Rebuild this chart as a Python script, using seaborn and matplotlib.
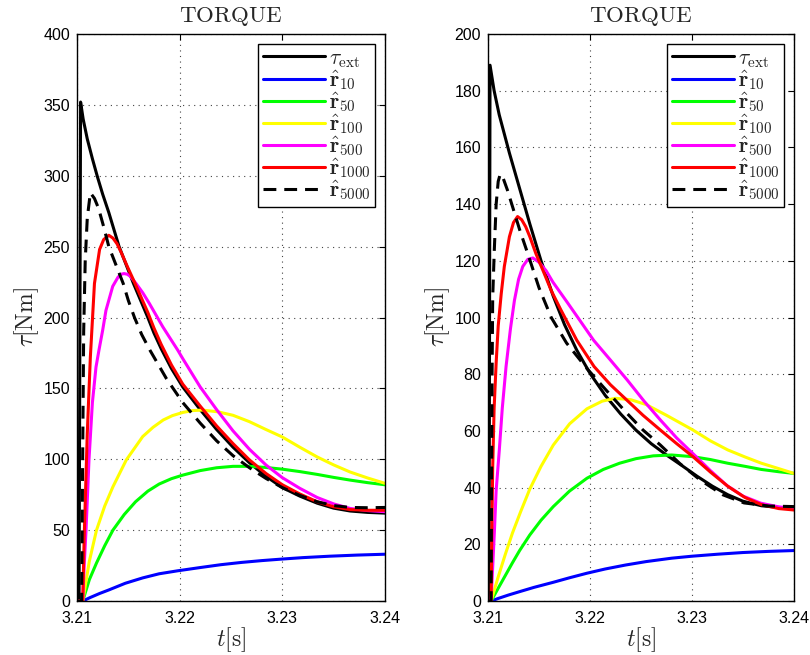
import numpy as np
import pandas as pd
import matplotlib
matplotlib.use("Agg")
import matplotlib.pyplot as plt
import seaborn as sns

# ---------------- data (t in s, torque in Nm) ----------------
# Left panel
L_tau_t = [3.2100, 3.2102, 3.21035, 3.2106, 3.2110, 3.2115, 3.2120, 3.2125, 3.2131, 3.2136, 3.2141, 3.2148, 3.2155, 3.2162, 3.2169, 3.2175, 3.2182, 3.2192, 3.2203, 3.2220, 3.2236, 3.2252, 3.2268, 3.2284, 3.2300, 3.2317, 3.2334, 3.2350, 3.2366, 3.2383, 3.2400]
L_tau_v = [0, 0, 352, 340, 326, 312, 299, 287, 274, 262, 250, 237, 224, 212, 200, 189, 178, 164, 151, 135, 121, 108.5, 97.5, 88, 80, 74, 69, 65.5, 63.5, 62.5, 62]

L_r10_t = [3.2100, 3.21056, 3.2113, 3.2122, 3.2131, 3.2147, 3.2164, 3.2180, 3.2198, 3.2220, 3.2240, 3.2260, 3.2280, 3.2300, 3.2320, 3.2346, 3.2373, 3.2400]
L_r10_v = [0, 0, 2.5, 5.3, 7.8, 12.5, 16.3, 19.2, 21.3, 23.6, 25.6, 27.2, 28.5, 29.6, 30.6, 31.6, 32.4, 33]

L_r50_t = [3.2100, 3.21056, 3.2112, 3.2119, 3.2127, 3.2135, 3.2146, 3.2157, 3.2169, 3.2180, 3.2192, 3.2203, 3.2220, 3.2236, 3.2252, 3.2268, 3.2284, 3.2300, 3.2317, 3.2334, 3.2350, 3.2366, 3.2383, 3.2400]
L_r50_v = [0, 0, 15, 26.8, 39, 50, 61, 70, 77.5, 82.5, 86.3, 88.8, 92, 94, 95, 95, 94.2, 93, 91.3, 89.3, 87.2, 85.3, 83.5, 82]

L_r100_t = [3.2100, 3.21056, 3.2112, 3.2119, 3.2127, 3.2135, 3.2148, 3.2164, 3.2174, 3.2184, 3.2193, 3.2203, 3.2212, 3.2222, 3.2237, 3.2252, 3.2268, 3.2284, 3.2300, 3.2317, 3.2334, 3.2350, 3.2366, 3.2383, 3.2400]
L_r100_v = [0, 0, 28, 50, 67, 80.6, 99.5, 116, 122.5, 127.7, 130.8, 133, 134.3, 134.7, 133.5, 131, 126.5, 121, 115.7, 108.5, 101.6, 96, 91, 86.8, 83]

L_r500_t = [3.2100, 3.21056, 3.2107, 3.21088, 3.21117, 3.2115, 3.21185, 3.21214, 3.2125, 3.21282, 3.21348, 3.2140, 3.2143, 3.21458, 3.2149, 3.2152, 3.21575, 3.2164, 3.21704, 3.21835, 3.2191, 3.21981, 3.2203, 3.2220, 3.2236, 3.2252, 3.2268, 3.2284, 3.2300, 3.2317, 3.2334, 3.2350, 3.2366, 3.2383, 3.2400]
L_r500_v = [0, 0, 25, 50, 100, 140, 165, 177, 191, 205, 222, 228.5, 230.5, 231, 230.5, 229, 224, 217.5, 210, 193.5, 185, 177, 171, 151, 135, 120, 107, 96, 87, 79.5, 73, 68.5, 65.3, 63.8, 63]

L_r1000_t = [3.2100, 3.21056, 3.2107, 3.2110, 3.2113, 3.2114, 3.2117, 3.2122, 3.2126, 3.2131, 3.2135, 3.2139, 3.2143, 3.2149, 3.2155, 3.2162, 3.2169, 3.2175, 3.2182, 3.2192, 3.2203, 3.2220, 3.2236, 3.2252, 3.2268, 3.2284, 3.2300, 3.2317, 3.2334, 3.2350, 3.2366, 3.2383, 3.2400]
L_r1000_v = [0, 0, 45, 118, 172, 185, 224, 248, 255, 258, 256, 252, 246, 236, 226.5, 215, 203.5, 192.5, 181, 166.5, 153, 137.5, 123.5, 111, 99.5, 90, 82, 75.5, 70, 66.5, 64.5, 64, 64]

L_r5000_t = [3.2100, 3.21045, 3.21055, 3.21065, 3.2108, 3.2110, 3.2113, 3.2117, 3.2121, 3.2126, 3.2131, 3.2138, 3.2145, 3.2150, 3.2156, 3.2163, 3.2171, 3.2187, 3.2203, 3.2220, 3.2236, 3.2252, 3.2268, 3.2284, 3.2300, 3.2317, 3.2334, 3.2350, 3.2366, 3.2383, 3.2400]
L_r5000_v = [0, 0, 100, 190, 240, 270, 288, 284, 277, 264, 250, 237, 224, 212, 200, 188, 177, 157, 140, 125.5, 113, 102.5, 94, 86.5, 80, 74.5, 70, 67.3, 66, 65.8, 66]

# Right panel
R_tau_t = [3.2100, 3.2101, 3.2102, 3.2106, 3.2111, 3.2121, 3.2131, 3.2141, 3.2152, 3.2164, 3.2175, 3.2187, 3.2200, 3.2215, 3.2230, 3.2245, 3.2260, 3.2275, 3.2290, 3.2305, 3.2320, 3.2335, 3.2350, 3.2368, 3.2385, 3.2400]
R_tau_v = [0, 0, 189, 180, 171.5, 158, 145.5, 133, 120, 107.5, 97.5, 88.5, 80.3, 72.5, 66, 60.3, 55.5, 51.5, 47.8, 44, 40.5, 37.5, 35.2, 33.6, 33, 32.8]

R_r10_t = [3.2100, 3.2103, 3.2110, 3.2120, 3.2131, 3.2145, 3.2164, 3.2180, 3.2197, 3.2215, 3.2235, 3.2255, 3.2280, 3.2300, 3.2325, 3.2350, 3.2375, 3.2400]
R_r10_v = [0, 0, 0.9, 2.1, 3.3, 4.8, 6.6, 8.2, 9.8, 11.3, 12.7, 13.9, 15.1, 15.8, 16.5, 17.1, 17.5, 17.8]

R_r50_t = [3.2100, 3.2103, 3.2110, 3.2117, 3.2124, 3.2131, 3.2141, 3.2152, 3.2164, 3.2180, 3.2197, 3.2213, 3.2229, 3.2245, 3.2262, 3.2280, 3.2301, 3.2318, 3.2335, 3.2352, 3.2368, 3.2385, 3.2400]
R_r50_v = [0, 0, 4.5, 9, 13.5, 17.8, 23.3, 28.5, 33.3, 38.8, 43.3, 46.4, 48.6, 50.2, 51.2, 51.5, 50.9, 49.9, 48.6, 47.5, 46.4, 45.6, 45]

R_r100_t = [3.2100, 3.2103, 3.2110, 3.2117, 3.2124, 3.2132, 3.2141, 3.2152, 3.2164, 3.2180, 3.2197, 3.2212, 3.2225, 3.2240, 3.2255, 3.2275, 3.2301, 3.2318, 3.2335, 3.2352, 3.2368, 3.2385, 3.2400]
R_r100_v = [0, 0, 8.5, 16.5, 24, 31.5, 39.5, 47.5, 55, 62.5, 67.8, 70.5, 71.5, 71, 69.3, 65.5, 60.3, 56.5, 53.3, 50.8, 48.6, 46.7, 45]

R_r500_t = [3.2100, 3.2103, 3.21062, 3.2108, 3.21111, 3.2114, 3.21177, 3.2122, 3.21259, 3.2130, 3.21341, 3.2139, 3.2144, 3.2150, 3.2157, 3.21636, 3.21774, 3.2190, 3.22035, 3.2220, 3.22364, 3.2253, 3.22691, 3.2285, 3.23009, 3.2318, 3.23347, 3.2350, 3.23675, 3.2385, 3.2400]
R_r500_v = [0, 0, 24, 39, 53.3, 68, 82.7, 96, 106, 113.5, 118, 120.5, 121, 119.5, 116.5, 112.5, 105.5, 99, 92, 85, 78, 70.5, 63.8, 57.5, 52, 46, 40.6, 37, 34.5, 33.2, 32.7]

R_r1000_t = [3.2100, 3.2103, 3.21038, 3.21046, 3.2106, 3.2108, 3.2110, 3.2113, 3.2116, 3.2121, 3.2125, 3.2129, 3.2133, 3.2137, 3.2141, 3.2147, 3.2154, 3.2162, 3.2171, 3.2187, 3.2204, 3.2220, 3.2236, 3.2252, 3.2269, 3.2285, 3.2301, 3.2318, 3.2335, 3.2352, 3.2368, 3.2385, 3.2400]
R_r1000_v = [0, 0, 25, 47, 68, 84, 97, 108.5, 118, 128.5, 133.5, 135.6, 134.5, 132, 128.5, 122.5, 116.5, 109.5, 103, 92, 82.7, 76.3, 70.9, 65.5, 60.3, 55.5, 50.9, 45.5, 40.5, 36.5, 34, 32.6, 32.1]

R_r5000_t = [3.2100, 3.2103, 3.21035, 3.2104, 3.21046, 3.21062, 3.2108, 3.2110, 3.2112, 3.2115, 3.2119, 3.2125, 3.2131, 3.2139, 3.2150, 3.2162, 3.2177, 3.2197, 3.2213, 3.2236, 3.2252, 3.2269, 3.2288, 3.2308, 3.2330, 3.2351, 3.2375, 3.2400]
R_r5000_v = [0, 0, 40, 80, 107, 124, 140, 148, 150.6, 149, 145, 138, 131, 122.5, 110.5, 100, 91, 82, 75.5, 66.3, 60.3, 55, 48.5, 42.7, 37.5, 34.6, 33.5, 33.3]

labels = [r"$\tau_{\mathrm{ext}}$", r"$\hat{\mathbf{r}}_{10}$", r"$\hat{\mathbf{r}}_{50}$",
          r"$\hat{\mathbf{r}}_{100}$", r"$\hat{\mathbf{r}}_{500}$", r"$\hat{\mathbf{r}}_{1000}$",
          r"$\hat{\mathbf{r}}_{5000}$"]
colors = ["#000000", "#0000ff", "#00ff00", "#ffff00", "#ff00ff", "#ff0000", "#000000"]
dashed = [False, False, False, False, False, False, True]

left_series = [(L_tau_t, L_tau_v), (L_r10_t, L_r10_v), (L_r50_t, L_r50_v), (L_r100_t, L_r100_v),
               (L_r500_t, L_r500_v), (L_r1000_t, L_r1000_v), (L_r5000_t, L_r5000_v)]
right_series = [(R_tau_t, R_tau_v), (R_r10_t, R_r10_v), (R_r50_t, R_r50_v), (R_r100_t, R_r100_v),
                (R_r500_t, R_r500_v), (R_r1000_t, R_r1000_v), (R_r5000_t, R_r5000_v)]

x_ticks = [3.21, 3.22, 3.23, 3.24]
L_yticks = list(range(0, 401, 50))
R_yticks = list(range(0, 201, 20))

# ---------------- style ----------------
sns.set_style("white")
plt.rcParams["font.family"] = ["Liberation Sans", "DejaVu Sans"]
plt.rcParams["mathtext.fontset"] = "cm"

fig = plt.figure(figsize=(8.1, 6.55), dpi=100)
W, H = 810, 655
axL = fig.add_axes([77 / W, (H - 601) / H, 308 / W, 567 / H])
axR = fig.add_axes([488 / W, (H - 601) / H, 306 / W, 567 / H])


def draw(ax, series, yticks, ymax):
    for (t, v), lab, col, dsh in zip(series, labels, colors, dashed):
        df = pd.DataFrame({"t": t, "v": v})
        sns.lineplot(data=df, x="t", y="v", ax=ax, color=col, lw=2.2, label=lab,
                     estimator=None, sort=False,
                     linestyle=(0, (4.2, 2.6)) if dsh else "-")
    ax.set_xlim(3.21, 3.24)
    ax.set_ylim(0, ymax)
    ax.set_xticks(x_ticks)
    ax.set_xticklabels([f"{x:.2f}" for x in x_ticks])
    ax.set_yticks(yticks)
    ax.tick_params(direction="in", top=True, right=True, length=4, width=0.8,
                   labelsize=11.5, colors="black")
    ax.tick_params(axis="x", pad=7)
    ax.tick_params(axis="y", pad=5)
    ax.grid(True, linestyle=(0, (1, 4)), color="#444444", lw=0.8)
    for s in ax.spines.values():
        s.set_color("black")
        s.set_linewidth(1.0)
    ax.set_title(r"$\mathrm{TORQUE}$", fontsize=16.5, pad=9)
    ax.set_xlabel(r"$t[\mathrm{s}]$", fontsize=17, labelpad=0)
    ax.set_ylabel(r"$\tau[\mathrm{Nm}]$", fontsize=17, labelpad=2)
    leg = ax.legend(loc="upper right", fontsize=15.5, frameon=True, fancybox=False,
                    edgecolor="black", framealpha=1, handlelength=2.9,
                    borderaxespad=0.45, labelspacing=-0.08, handletextpad=0.2,
                    borderpad=0.2)
    leg.get_frame().set_linewidth(1.0)


draw(axL, left_series, L_yticks, 400)
draw(axR, right_series, R_yticks, 200)

fig.savefig("out.png", dpi=100)
